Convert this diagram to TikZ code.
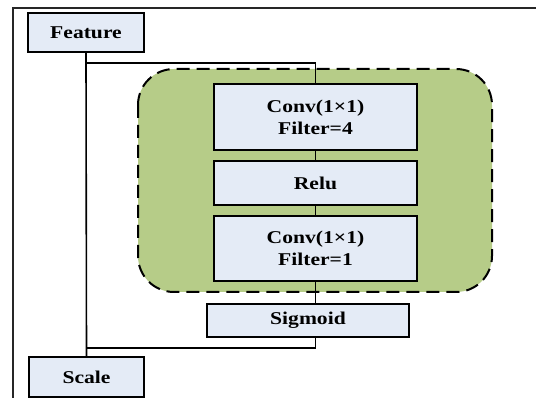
\documentclass[tikz,border=0pt]{standalone}
\usepackage{fontspec}
\setmainfont{Liberation Serif}[FakeStretch=1.2]
\usetikzlibrary{calc}
\definecolor{boxfill}{RGB}{228,235,246}
\definecolor{groupfill}{RGB}{182,204,136}
\begin{document}
\begin{tikzpicture}[x=1pt,y=-1pt,
  block/.style={draw=black, line width=1.8pt, fill=boxfill, rectangle,
    inner sep=0pt, align=center, font=\fontsize{18}{22}\selectfont\bfseries},
  link/.style={draw=black, line width=1.6pt}]
  \useasboundingbox (0,0) rectangle (536,398);
  % outer frame (top and left sides)
  \draw[line width=1.6pt, black!85] (536,8) -- (13,8) -- (13,398);
  % attention branch group
  \draw[fill=groupfill, dashed, dash pattern=on 13pt off 7pt, line width=2pt,
        rounded corners=36pt] (138,69) rectangle (492,292);
  % blocks
  \node[block, minimum width=116pt, minimum height=39pt] (feat) at (86,32.5) {Feature};
  \node[block, minimum width=203pt, minimum height=66pt] (conv1) at (315.5,117) {Conv(1×1)\\Filter=4};
  \node[block, minimum width=203pt, minimum height=44pt] (relu) at (315.5,183) {Relu};
  \node[block, minimum width=203pt, minimum height=65pt] (conv2) at (315.5,248.5) {Conv(1×1)\\Filter=1};
  \node[block, minimum width=202pt, minimum height=33pt] (sig) at (308,320.5) {Sigmoid};
  \node[block, minimum width=115pt, minimum height=40pt] (scale) at (86.5,377) {Scale};
  % connectors
  \coordinate (split) at (feat.south |- 0,63);
  \coordinate (merge) at (feat.south |- 0,348);
  \draw[link] (feat.south) -- (scale.north);
  \draw[link] (split) -| (conv1.north);
  \draw[link] (conv1.south) -- (relu.north);
  \draw[link] (relu.south) -- (conv2.north);
  \draw[link] (conv2.south) -- (conv2.south |- sig.north);
  \draw[link] (conv2.south |- sig.south) |- (merge);
\end{tikzpicture}
\end{document}
